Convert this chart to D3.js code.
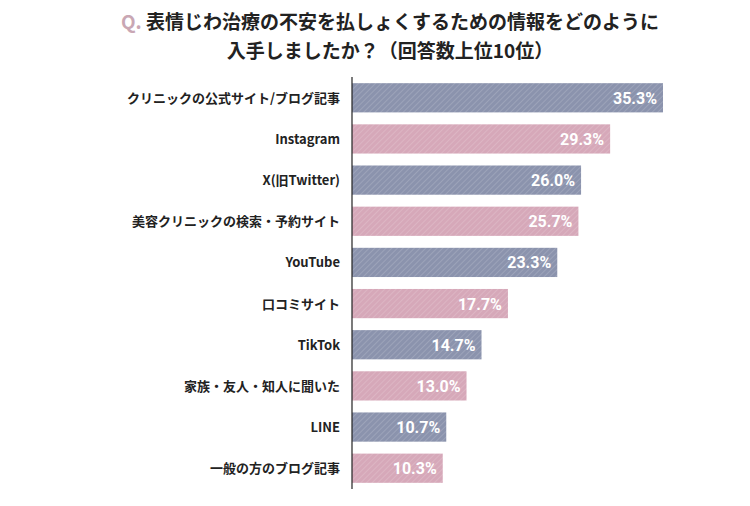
<!DOCTYPE html>
<html>
<head>
<meta charset="utf-8">
<script src="https://d3js.org/d3.v7.min.js"></script>
<style>
	body { margin: 0; background: #fff; font-family: "Noto Sans CJK JP", sans-serif; }
</style>
</head>
<body>
<div id="chart"></div>
<script>
	var categories = ["クリニックの公式サイト/ブログ記事", "Instagram", "X(旧Twitter)", "美容クリニックの検索・予約サイト", "YouTube", "口コミサイト", "TikTok", "家族・友人・知人に聞いた", "LINE", "一般の方のブログ記事"];
	var values = [35.3, 29.3, 26.0, 25.7, 23.3, 17.7, 14.7, 13.0, 10.7, 10.3];
	var colors = ["#8b93ad", "#d6a8b9"];

	var width = 750, height = 506;
	var svg = d3.select("#chart").append("svg").attr("width", width).attr("height", height);

	// hatch patterns
	colors.forEach(function(c, i) {
		var p = svg.append("defs").append("pattern")
			.attr("id", "hatch" + i)
			.attr("patternUnits", "userSpaceOnUse")
			.attr("width", 4).attr("height", 4)
			.attr("patternTransform", "rotate(45)");
		p.append("rect").attr("width", 4).attr("height", 4).attr("fill", c);
		p.append("line").attr("x1", 0).attr("y1", 0).attr("x2", 0).attr("y2", 4)
			.attr("stroke", "#fff").attr("stroke-opacity", 0.25).attr("stroke-width", 1.2);
	});

	var title = svg.append("text").attr("x", 390).attr("y", 29).attr("text-anchor", "middle")
		.attr("font-size", 19).attr("font-weight", "bold").attr("fill", "#222");
	title.append("tspan").attr("fill", "#c9a7b4").text("Q. ");
	title.append("tspan").text("表情じわ治療の不安を払しょくするための情報をどのように");
	svg.append("text").attr("x", 390).attr("y", 58).attr("text-anchor", "middle")
		.attr("font-size", 19).attr("font-weight", "bold").attr("fill", "#222")
		.text("入手しましたか？（回答数上位10位）");

	var x = d3.scaleLinear().domain([0, 35.3]).range([352, 663]);
	var y = d3.scaleBand().domain(categories).range([77, 489]).paddingInner(0.29).paddingOuter(0.15);

	svg.selectAll("rect.bar").data(values).enter().append("rect")
		.attr("class", "bar")
		.attr("x", x(0))
		.attr("y", function(d, i) { return y(categories[i]); })
		.attr("width", function(d) { return x(d) - x(0); })
		.attr("height", y.bandwidth())
		.attr("fill", function(d, i) { return "url(#hatch" + (i % 2) + ")"; });

	svg.selectAll("text.val").data(values).enter().append("text")
		.attr("class", "val")
		.attr("x", function(d) { return x(d) - 6; })
		.attr("y", function(d, i) { return y(categories[i]) + y.bandwidth() / 2 + 6; })
		.attr("text-anchor", "end")
		.attr("font-family", "Roboto, sans-serif")
		.attr("font-size", 16).attr("font-weight", "bold").attr("fill", "#fff")
		.text(function(d) { return d.toFixed(1) + "%"; });

	svg.selectAll("text.cat").data(categories).enter().append("text")
		.attr("class", "cat")
		.attr("x", 340)
		.attr("y", function(d) { return y(d) + y.bandwidth() / 2 + 5; })
		.attr("text-anchor", "end")
		.attr("font-size", 13).attr("font-weight", "bold").attr("fill", "#222")
		.text(function(d) { return d; });

	svg.append("line").attr("x1", x(0)).attr("x2", x(0)).attr("y1", 77).attr("y2", 489)
		.attr("stroke", "#222").attr("stroke-width", 1.2);
</script>
</body>
</html>
